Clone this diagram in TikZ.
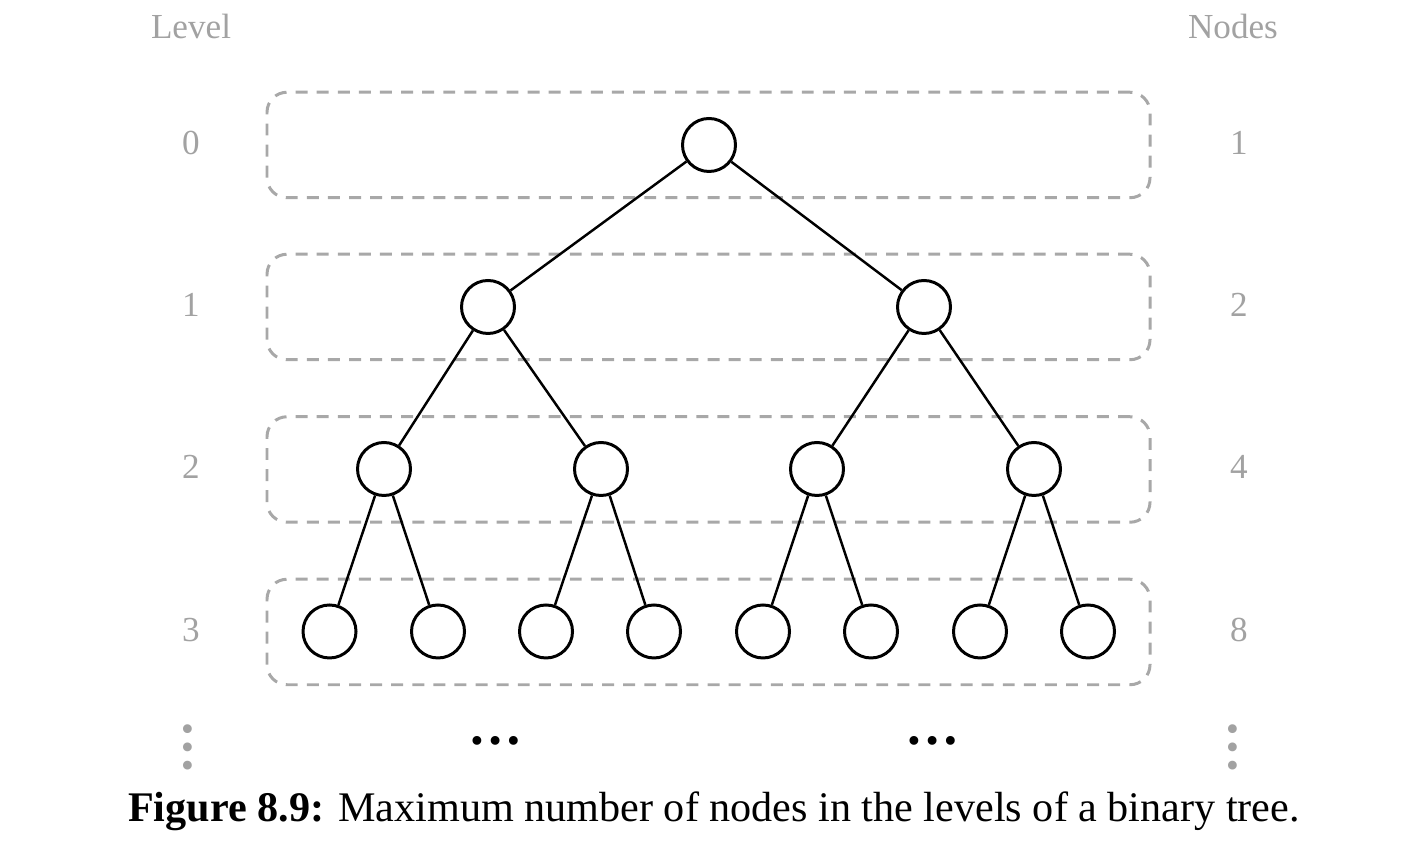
\documentclass[tikz,border=0pt]{standalone}
\usepackage{fontspec}
\setmainfont{Liberation Serif}
\definecolor{lvlgray}{HTML}{A2A2A2}
\definecolor{boxgray}{HTML}{A8A8A8}
\begin{document}
\begin{tikzpicture}[font=\fontsize{10}{12}\selectfont,
	v/.style={draw,circle,line width=0.85pt,minimum size=5.3mm,inner sep=0pt},
	lvl/.style={draw=boxgray,line width=0.85pt,dash pattern=on 3.4pt off 2.6pt,rounded corners=2mm,
		minimum width=88.3mm,minimum height=10.55mm,inner sep=0pt},
	lab/.style={text=lvlgray,inner sep=0pt,anchor=base},
	link/.style={line width=0.7pt},
	more/.style={font=\fontsize{15.4}{18}\selectfont\bfseries,inner sep=0pt}]
	\useasboundingbox (0,0) rectangle (14.12,-8.5);
	% level boxes
	\node[lvl] (b0) at (7.085,-1.45) {};
	\node[lvl] (b1) at (7.085,-3.07) {};
	\node[lvl] (b2) at (7.085,-4.695) {};
	\node[lvl] (b3) at (7.085,-6.32) {};
	% the tree
	\node[v] (n0) at (7.09,-1.45) {};
	\node[v] (n1) at (4.88,-3.07) {};
	\node[v] (n2) at (9.24,-3.07) {};
	\node[v] (n3) at (3.84,-4.69) {};
	\node[v] (n4) at (6.01,-4.69) {};
	\node[v] (n5) at (8.17,-4.69) {};
	\node[v] (n6) at (10.34,-4.69) {};
	\node[v] (n7) at (3.295,-6.315) {};
	\node[v] (n8) at (4.38,-6.315) {};
	\node[v] (n9) at (5.46,-6.315) {};
	\node[v] (n10) at (6.54,-6.315) {};
	\node[v] (n11) at (7.63,-6.315) {};
	\node[v] (n12) at (8.71,-6.315) {};
	\node[v] (n13) at (9.80,-6.315) {};
	\node[v] (n14) at (10.88,-6.315) {};
	\draw[link] (n0) -- (n1) (n0) -- (n2)
		(n1) -- (n3) (n1) -- (n4) (n2) -- (n5) (n2) -- (n6)
		(n3) -- (n7) (n3) -- (n8) (n4) -- (n9) (n4) -- (n10)
		(n5) -- (n11) (n5) -- (n12) (n6) -- (n13) (n6) -- (n14);
	\node[more] (d1) at (4.96,-7.41) {\ldots};
	\node[more] (d2) at (9.33,-7.41) {\ldots};
	% level and node counts
	\node[lab] (hl) at (1.91,-0.39) {Level};
	\node[lab] (l0) at (1.91,-1.55) {0};
	\node[lab] (l1) at (1.91,-3.17) {1};
	\node[lab] (l2) at (1.91,-4.79) {2};
	\node[lab] (l3) at (1.91,-6.42) {3};
	\node[more,text=lvlgray,rotate=90] (lv) at (1.88,-7.47) {\ldots};
	\node[lab] (hn) at (12.33,-0.39) {Nodes};
	\node[lab] (c0) at (12.39,-1.55) {1};
	\node[lab] (c1) at (12.39,-3.17) {2};
	\node[lab] (c2) at (12.39,-4.79) {4};
	\node[lab] (c3) at (12.39,-6.42) {8};
	\node[more,text=lvlgray,rotate=90] (cv) at (12.33,-7.47) {\ldots};
	% caption
	\node[anchor=base,font=\fontsize{12}{14}\selectfont,inner sep=0pt] (cap) at (7.14,-8.22)
		{\textbf{Figure 8.9:} Maximum number of nodes in the levels of a binary tree.};
\end{tikzpicture}
\end{document}
